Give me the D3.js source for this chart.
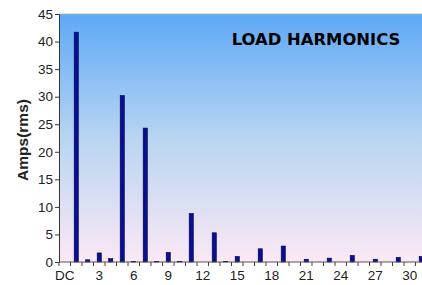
<!DOCTYPE html>
<html>
<head>
<meta charset="utf-8">
<script src="https://cdn.jsdelivr.net/npm/d3@7"></script>
<style>
body { margin: 0; background: #fff; }
svg { display: block; font-family: Arial, "Liberation Sans", sans-serif; }
</style>
</head>
<body>
<div id="chart"></div>
<script>
// harmonic orders, DC then 1..31
var orders = ["DC"];
for (var i = 1; i <= 31; i++) orders.push(String(i));
var amps = [0, 41.7, 0.4, 1.65, 0.6, 30.2, 0.1, 24.3, 0.1, 1.75, 0.1, 8.8, 0,
            5.3, 0.1, 1.0, 0, 2.4, 0, 2.9, 0, 0.5, 0, 0.7, 0, 1.2, 0, 0.5, 0, 0.85, 0, 1.0];
var yTicks = [0, 5, 10, 15, 20, 25, 30, 35, 40, 45];
var xLabels = ["DC", "3", "6", "9", "12", "15", "18", "21", "24", "27", "30"];

var W = 422, H = 285;
var margin = {top: 14, right: -5, bottom: 23, left: 59};
var width = W - margin.left - margin.right;
var height = H - margin.top - margin.bottom;

var svg = d3.select("#chart").append("svg")
    .attr("width", W).attr("height", H);

var defs = svg.append("defs");
var grad = defs.append("linearGradient").attr("id", "bg")
    .attr("x1", 0).attr("y1", 0).attr("x2", 0).attr("y2", 1);
grad.append("stop").attr("offset", "0%").attr("stop-color", "#5ea8f6");
grad.append("stop").attr("offset", "50%").attr("stop-color", "#b9d5f1");
grad.append("stop").attr("offset", "100%").attr("stop-color", "#fbe8f5");

var x = d3.scaleBand().domain(orders).range([0, width]).paddingInner(0.64).paddingOuter(0.32);
var y = d3.scaleLinear().domain([0, 45]).range([height, 0]);

var g = svg.append("g").attr("transform", "translate(" + margin.left + "," + margin.top + ")");

g.append("rect").attr("width", width).attr("height", height).attr("fill", "url(#bg)");
g.append("line").attr("x1", 0).attr("x2", width).attr("y1", 0).attr("y2", 0)
    .attr("stroke", "#b8b8b8");

g.selectAll(".bar").data(amps).enter().append("rect")
    .attr("class", "bar")
    .attr("x", function(d, i) { return x(orders[i]); })
    .attr("width", x.bandwidth())
    .attr("y", function(d) { return y(d); })
    .attr("height", function(d) { return height - y(d); })
    .attr("fill", "#0a0f8f")
    .attr("stroke", "#000050")
    .attr("stroke-width", 0.6);

// y axis
var yAxis = g.append("g")
    .call(d3.axisLeft(y).tickValues(yTicks).tickSize(4).tickPadding(2));
yAxis.select(".domain").attr("stroke", "#333");
yAxis.selectAll(".tick line").attr("stroke", "#333");
yAxis.selectAll("text").attr("font-size", 13.5).attr("fill", "#222");

// x axis: ticks at every category boundary, labels every third
var step = x.step();
var xa = g.append("g").attr("transform", "translate(0," + height + ")");
xa.append("line").attr("x1", 0).attr("x2", width).attr("stroke", "#555");
xa.selectAll(".xt").data(d3.range(orders.length + 1)).enter().append("line")
    .attr("x1", function(d) { return d * step; })
    .attr("x2", function(d) { return d * step; })
    .attr("y1", 0).attr("y2", 4)
    .attr("stroke", "#444");
xa.selectAll(".xl").data(xLabels).enter().append("text")
    .attr("x", function(d) { return x(d) + x.bandwidth() / 2; })
    .attr("y", 18)
    .attr("text-anchor", "middle")
    .attr("font-size", 13.5)
    .attr("fill", "#222")
    .text(function(d) { return d; });

// titles
svg.append("text")
    .attr("x", 316).attr("y", 45)
    .attr("text-anchor", "middle")
    .attr("font-family", "Verdana, 'DejaVu Sans', sans-serif")
    .attr("font-weight", "bold")
    .attr("font-size", 16.4)
    .attr("fill", "#000")
    .text("LOAD HARMONICS");

svg.append("text")
    .attr("transform", "translate(28,140) rotate(-90)")
    .attr("text-anchor", "middle")
    .attr("font-weight", "bold")
    .attr("font-size", 15.5)
    .attr("fill", "#222")
    .text("Amps(rms)");
</script>
</body>
</html>
